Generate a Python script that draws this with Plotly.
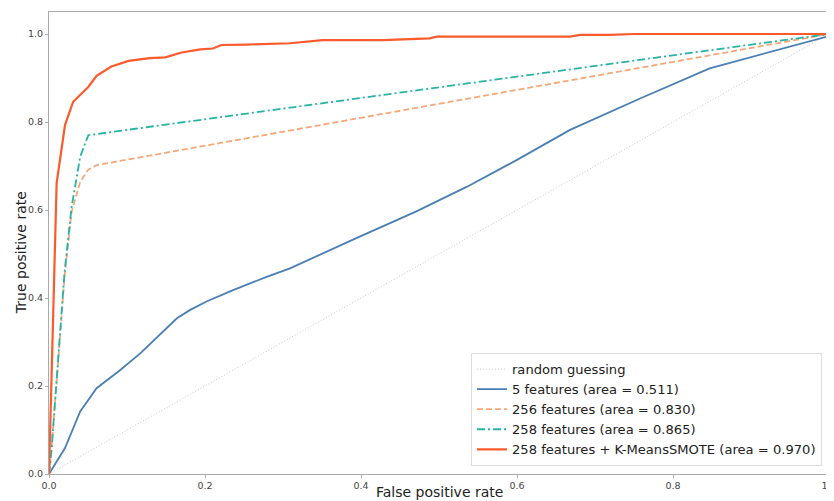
import plotly.graph_objects as go

# Data
random_x = [0.0, 1.0]
random_y = [0.0, 1.0]

f5_x = [0.0, 0.0205, 0.04, 0.061, 0.089, 0.117, 0.164, 0.181, 0.202, 0.236, 0.279, 0.309,
        0.394, 0.471, 0.536, 0.600, 0.668, 0.76, 0.847, 0.963, 0.997, 1.0]
f5_y = [0.0, 0.059, 0.142, 0.195, 0.233, 0.274, 0.354, 0.373, 0.392, 0.418, 0.448, 0.4675,
        0.536, 0.597, 0.653, 0.714, 0.782, 0.855, 0.922, 0.979, 0.994, 1.0]

f256_x = [0.0, 0.003, 0.02, 0.029, 0.040, 0.050, 0.061, 1.0]
f256_y = [0.0, 0.05, 0.45, 0.596, 0.664, 0.691, 0.702, 1.0]

f258_x = [0.0, 0.003, 0.02, 0.029, 0.040, 0.0504, 1.0]
f258_y = [0.0, 0.05, 0.46, 0.607, 0.721, 0.770, 1.0]

km_x = [0.0, 0.0077, 0.0098, 0.0205, 0.031, 0.050, 0.061, 0.080, 0.102, 0.129, 0.149, 0.170,
        0.194, 0.210, 0.221, 0.253, 0.292, 0.309, 0.351, 0.428, 0.488, 0.497, 0.668, 0.681,
        0.719, 0.75, 1.0]
km_y = [0.0, 0.509, 0.661, 0.793, 0.846, 0.879, 0.905, 0.926, 0.939, 0.945, 0.947, 0.958,
        0.965, 0.967, 0.975, 0.976, 0.977, 0.979, 0.986, 0.986, 0.990, 0.994, 0.994, 0.998,
        0.998, 1.0, 1.0]

x_ticks = [0.0, 0.2, 0.4, 0.6, 0.8, 1.0]
y_ticks = [0.0, 0.2, 0.4, 0.6, 0.8, 1.0]
tick_text = ["0.0", "0.2", "0.4", "0.6", "0.8", "1.0"]

fig = go.Figure()
fig.add_trace(go.Scatter(x=random_x, y=random_y, mode="lines", name="random guessing",
                         line=dict(color="#c8c8c8", width=1, dash="1px,2px")))
fig.add_trace(go.Scatter(x=f5_x, y=f5_y, mode="lines", name="5 features (area = 0.511)",
                         line=dict(color="#4a7fb3", width=1.8)))
fig.add_trace(go.Scatter(x=f256_x, y=f256_y, mode="lines", name="256 features (area = 0.830)",
                         line=dict(color="#f4a878", width=1.8, dash="6px,3px")))
fig.add_trace(go.Scatter(x=f258_x, y=f258_y, mode="lines", name="258 features (area = 0.865)",
                         line=dict(color="#26b3a3", width=1.8, dash="8px,3px,2px,3px")))
fig.add_trace(go.Scatter(x=km_x, y=km_y, mode="lines",
                         name="258 features + K-MeansSMOTE (area = 0.970)",
                         line=dict(color="#fb5a2c", width=2.2)))

fig.update_layout(
    width=826, height=493,
    margin=dict(l=41, r=5, t=4, b=27, autoexpand=False),
    paper_bgcolor="white", plot_bgcolor="white",
    font=dict(family="DejaVu Sans", color="#333333"),
    showlegend=True,
    legend=dict(x=0.991, y=0.017, xanchor="right", yanchor="bottom",
                bgcolor="rgba(255,255,255,0.9)", bordercolor="#dddddd", borderwidth=1,
                font=dict(size=13.1, color="#222222"), itemwidth=30,
                tracegroupgap=0),
    annotations=[
        dict(text="False positive rate", xref="paper", yref="paper", x=0.5, y=-0.039,
             xanchor="center", yanchor="middle", showarrow=False,
             font=dict(size=14, color="#222222")),
        dict(text="True positive rate", xref="paper", yref="paper", x=-0.036, y=0.48,
             xanchor="center", yanchor="middle", showarrow=False, textangle=-90,
             font=dict(size=14, color="#222222")),
    ],
)
fig.update_xaxes(range=[0, 1], tickvals=x_ticks, ticktext=tick_text, automargin=False,
                 ticklabeloverflow="allow",
                 showgrid=False, zeroline=False, showline=True, linecolor="#aaaaaa",
                 linewidth=1, mirror=True, ticks="outside", ticklen=3, tickcolor="#aaaaaa",
                 tickfont=dict(size=9.5, color="#444444"))
fig.update_yaxes(range=[0, 1.05], tickvals=y_ticks, ticktext=tick_text, automargin=False,
                 showgrid=False, zeroline=False, showline=True, linecolor="#aaaaaa",
                 linewidth=1, mirror=True, ticks="outside", ticklen=3, tickcolor="#aaaaaa",
                 tickfont=dict(size=9.5, color="#444444"))

fig.write_html("out.html")
